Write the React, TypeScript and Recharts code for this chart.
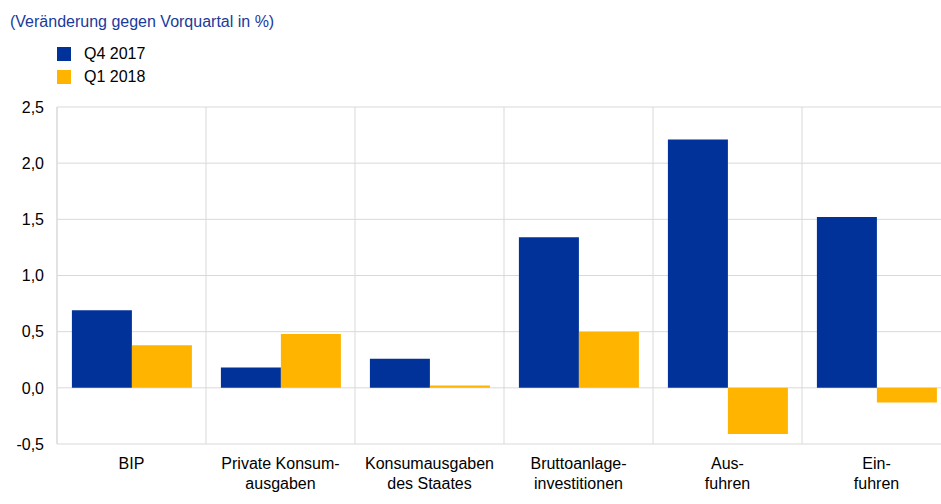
import React from 'react';
import { BarChart, Bar, XAxis, YAxis, CartesianGrid } from 'recharts';

const categories = [
  'BIP',
  'Private Konsum-\nausgaben',
  'Konsumausgaben\ndes Staates',
  'Bruttoanlage-\ninvestitionen',
  'Aus-\nfuhren',
  'Ein-\nfuhren',
];
const q4_2017 = [0.69, 0.18, 0.26, 1.34, 2.21, 1.52];
const q1_2018 = [0.38, 0.48, 0.02, 0.5, -0.41, -0.13];
const seriesNames = ['Q4 2017', 'Q1 2018'];
const seriesColors = ['#003299', '#FFB400'];
const yTicks = [-0.5, 0, 0.5, 1, 1.5, 2, 2.5];
const title = '(Veränderung gegen Vorquartal in %)';

const data = categories.map((c, i) => ({ category: c, q4: q4_2017[i], q1: q1_2018[i] }));

const FONT = '"Liberation Sans", Arial, sans-serif';
const GRID = '#d9d9d9';

const XTick = (props: any) => {
  const { x, y, payload } = props;
  const lines = String(payload.value).split('\n');
  return (
    <g>
      {lines.map((l: string, i: number) => (
        <text
          key={i}
          x={x}
          y={y + 25 + i * 20}
          textAnchor="middle"
          fontFamily={FONT}
          fontSize={16}
          fill="#000"
        >
          {l}
        </text>
      ))}
    </g>
  );
};

export default function App() {
  return (
    <div
      style={{
        position: 'absolute',
        left: 0,
        top: 0,
        width: 941,
        height: 504,
        overflow: 'hidden',
        background: '#fff',
        fontFamily: FONT,
      }}
    >
      <div
        style={{
          position: 'absolute',
          left: 10,
          top: 13,
          fontSize: 16,
          color: '#1a3a9c',
          lineHeight: '18px',
          whiteSpace: 'nowrap',
        }}
      >
        {title}
      </div>
      <div style={{ position: 'absolute', left: 57, top: 42 }}>
        {seriesNames.map((n, i) => (
          <div key={n} style={{ display: 'flex', alignItems: 'center', height: 23 }}>
            <div style={{ width: 14, height: 14, background: seriesColors[i] }} />
            <span style={{ marginLeft: 13, fontSize: 16, color: '#000' }}>{n}</span>
          </div>
        ))}
      </div>
      <BarChart
        width={951}
        height={504}
        data={data}
        margin={{ top: 107, right: 0, left: 0, bottom: 0 }}
        barCategoryGap="10%"
        barGap={0}
      >
        <CartesianGrid
          stroke={GRID}
          strokeWidth={1}
          verticalCoordinatesGenerator={({ offset }: any) =>
            Array.from(
              { length: categories.length + 1 },
              (_, i) => offset.left + (i * offset.width) / categories.length
            )
          }
        />
        <XAxis
          dataKey="category"
          height={60}
          axisLine={false}
          tickLine={false}
          tickSize={0}
          tickMargin={0}
          interval={0}
          tick={<XTick />}
        />
        <YAxis
          width={57}
          domain={[-0.5, 2.5]}
          ticks={yTicks}
          interval={0}
          axisLine={{ stroke: GRID }}
          tickLine={false}
          tickSize={0}
          tickMargin={13}
          tickFormatter={(v: number) => v.toFixed(1).replace('.', ',')}
          tick={{ fontFamily: FONT, fontSize: 16, fill: '#000' }}
        />
        <Bar dataKey="q4" name={seriesNames[0]} fill={seriesColors[0]} isAnimationActive={false} />
        <Bar dataKey="q1" name={seriesNames[1]} fill={seriesColors[1]} isAnimationActive={false} />
      </BarChart>
    </div>
  );
}
